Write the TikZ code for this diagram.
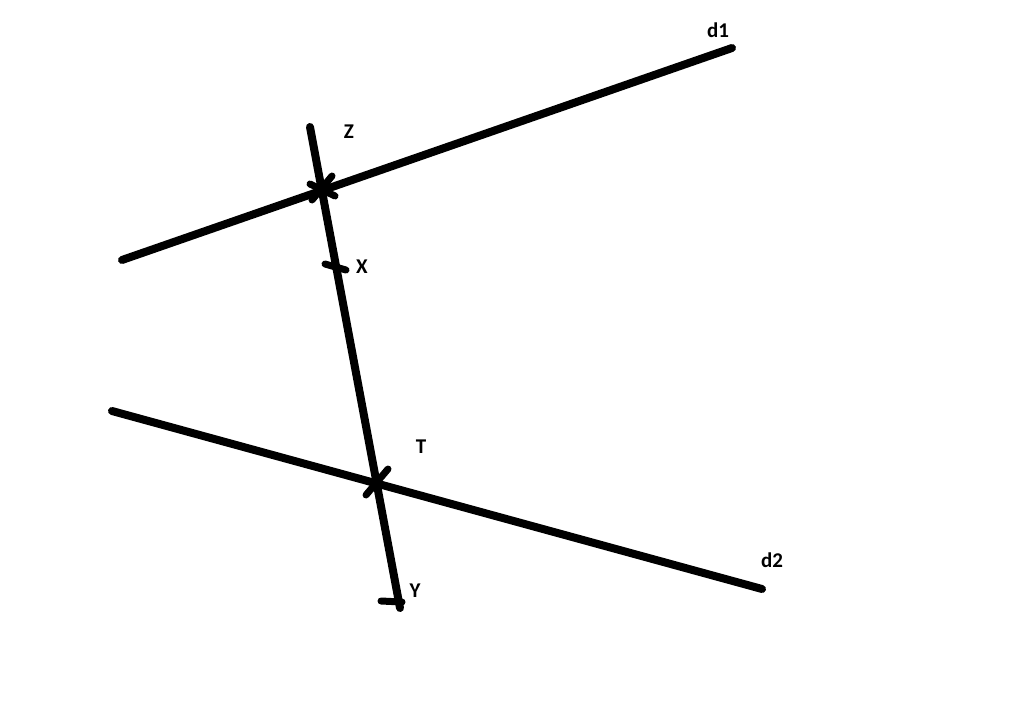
\documentclass[tikz,border=0pt]{standalone}
\usepackage{fontspec}
\setmainfont{Carlito}
\begin{document}
\begin{tikzpicture}[x=1pt,y=-1pt,
  thick line/.style={line width=8pt,line cap=round,black},
  tick/.style={line width=7pt,line cap=round,black},
  lbl/.style={font=\bfseries\fontsize{21}{23}\selectfont,inner sep=0pt,text=black}]
\useasboundingbox (0,0) rectangle (1024,708);
% lines
\coordinate (d1a) at (122,260);
\coordinate (d1b) at (732,48);
\coordinate (d2a) at (112,411);
\coordinate (d2b) at (762,589);
\coordinate (ta) at (310,127);
\coordinate (tb) at (400,608);
\draw[thick line] (d1a) -- (d1b);
\draw[thick line] (d2a) -- (d2b);
\draw[thick line] (ta) -- (tb);
% marks
\coordinate (z1) at (310,184);
\coordinate (z2) at (335,196);
\coordinate (z3) at (332,176);
\coordinate (z4) at (312,200);
\draw[tick] (z1) -- (z2);
\draw[tick] (z3) -- (z4);
\coordinate (x1) at (325,264);
\coordinate (x2) at (346,270);
\draw[tick] (x1) -- (x2);
\coordinate (t1) at (388,469);
\coordinate (t2) at (366,495);
\draw[tick] (t1) -- (t2);
\coordinate (y1) at (381,601);
\coordinate (y2) at (402,602);
\draw[tick] (y1) -- (y2);
% labels
\node[lbl] (lz) at (349,132) {Z};
\node[lbl] (lx) at (362,267) {X};
\node[lbl] (lt) at (421,447) {T};
\node[lbl] (ly) at (415,591) {Y};
\node[lbl] (ld1) at (718,30) {d1};
\node[lbl] (ld2) at (772,560) {d2};
\end{tikzpicture}
\end{document}
